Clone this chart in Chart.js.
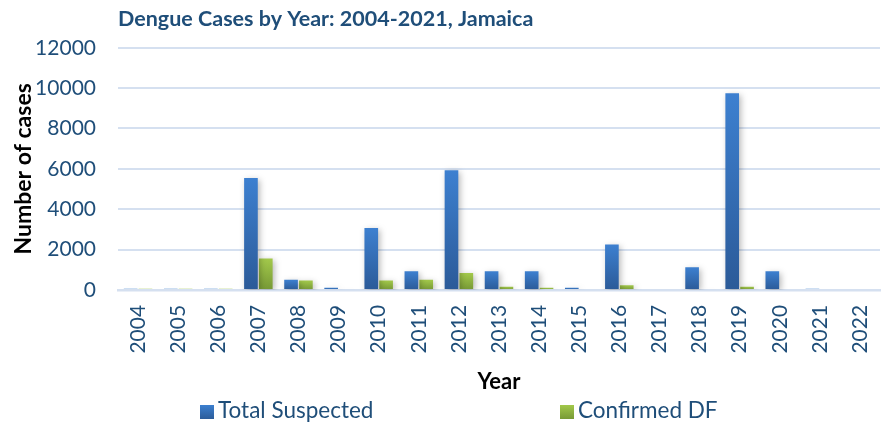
<!DOCTYPE html>
<html>
<head>
<meta charset="utf-8">
<script src="https://cdn.jsdelivr.net/npm/chart.js@4.4.1/dist/chart.umd.min.js"></script>
<style>
  html, body { margin: 0; padding: 0; background: #fff; }
  #wrap { position: relative; width: 888px; height: 426px; }
  #legend {
    position: absolute; top: 396px; left: 0; width: 888px; height: 28px;
    font-family: Lato, sans-serif; font-size: 22.5px; color: #1F4E79;
  }
  #legend span { position: absolute; top: 0; white-space: nowrap; }
  #legend i { display: inline-block; width: 14px; height: 14px; margin-right: 4px; vertical-align: -1px; }
</style>
</head>
<body>
<div id="wrap">
  <canvas id="chart" width="888" height="426"></canvas>
  <div id="legend">
    <span style="left:200px"><i style="background:linear-gradient(#3C7FCF,#2C5C9A)"></i>Total Suspected</span>
    <span style="left:560px"><i style="background:linear-gradient(#A2C84A,#789A36)"></i>Confirmed DF</span>
  </div>
</div>
<script>
// Data
const years = ['2004', '2005', '2006', '2007', '2008', '2009', '2010', '2011', '2012',
  '2013', '2014', '2015', '2016', '2017', '2018', '2019', '2020', '2021', '2022'];
const totalSuspected = [60, 60, 60, 5540, 500, 110, 3070, 920, 5930,
  920, 920, 110, 2250, 0, 1120, 9750, 920, 50, 0];
const confirmedDF = [50, 50, 50, 1560, 460, 40, 470, 500, 840,
  160, 100, 0, 230, 0, 40, 160, 0, 0, 0];
const yTicks = [0, 2000, 4000, 6000, 8000, 10000, 12000];

const textBlue = '#1F4E79';
const gridBlue = '#D5E0F0';

// vertical gradient per bar, light at top, dark at base
function barGradient(top, bottom) {
  return (ctx) => {
    const chart = ctx.chart;
    if (!chart.chartArea || ctx.raw === undefined) return top;
    const ys = chart.scales.y;
    const y0 = ys.getPixelForValue(ctx.raw);
    const y1 = ys.getPixelForValue(0);
    if (y1 - y0 < 1) return top;
    const g = chart.ctx.createLinearGradient(0, y0, 0, y1);
    g.addColorStop(0, top);
    g.addColorStop(1, bottom);
    return g;
  };
}

// soft shadow under the bars
const barShadow = {
  id: 'barShadow',
  beforeDatasetsDraw(chart) {
    const c = chart.ctx;
    c.save();
    c.shadowColor = 'rgba(0,0,0,0.28)';
    c.shadowBlur = 6;
    c.shadowOffsetX = 2;
    c.shadowOffsetY = 2;
  },
  afterDatasetsDraw(chart) {
    chart.ctx.restore();
  }
};

new Chart(document.getElementById('chart'), {
  type: 'bar',
  data: {
    labels: years,
    datasets: [{
      label: 'Total Suspected',
      data: totalSuspected,
      backgroundColor: barGradient('#3D80D0', '#2B5A98'),
      categoryPercentage: 0.74,
      barPercentage: 0.92
    }, {
      label: 'Confirmed DF',
      data: confirmedDF,
      backgroundColor: barGradient('#A3C94B', '#769835'),
      categoryPercentage: 0.74,
      barPercentage: 0.92
    }]
  },
  plugins: [barShadow],
  options: {
    responsive: false,
    animation: false,
    layout: { padding: { left: 10, right: 8, top: 4, bottom: 31 } },
    plugins: {
      legend: { display: false },
      tooltip: { enabled: false },
      title: {
        display: true,
        text: 'Dengue Cases by Year: 2004-2021, Jamaica',
        align: 'start',
        fullSize: false,
        color: textBlue,
        font: { family: 'Lato', size: 21.5, weight: 'bold' },
        padding: { top: 2, bottom: 16 }
      }
    },
    scales: {
      x: {
        afterFit: (axis) => { axis.paddingLeft = 0; axis.paddingRight = 0; },
        grid: { display: false, drawTicks: false },
        border: { display: true, color: gridBlue, width: 2.5 },
        ticks: {
          color: textBlue,
          font: { family: 'Lato', size: 21 },
          minRotation: 90,
          maxRotation: 90,
          padding: 15
        },
        title: {
          display: true,
          text: 'Year',
          color: '#000',
          font: { family: 'Lato', size: 22, weight: 'bold' },
          padding: { top: 0, bottom: 0 }
        }
      },
      y: {
        min: 0,
        max: 12000,
        afterFit: (axis) => { axis.width = 108; },
        afterBuildTicks: (axis) => { axis.ticks = yTicks.map(v => ({ value: v })); },
        grid: { color: gridBlue, lineWidth: 2, drawTicks: false },
        border: { display: false },
        ticks: {
          color: textBlue,
          font: { family: 'Lato', size: 21 },
          padding: 22,
          callback: (v) => String(v)
        },
        title: {
          display: true,
          text: 'Number of cases',
          color: '#000',
          font: { family: 'Lato', size: 23, weight: 'bold' },
          padding: { top: 0, bottom: 0 }
        }
      }
    }
  }
});
</script>
</body>
</html>
